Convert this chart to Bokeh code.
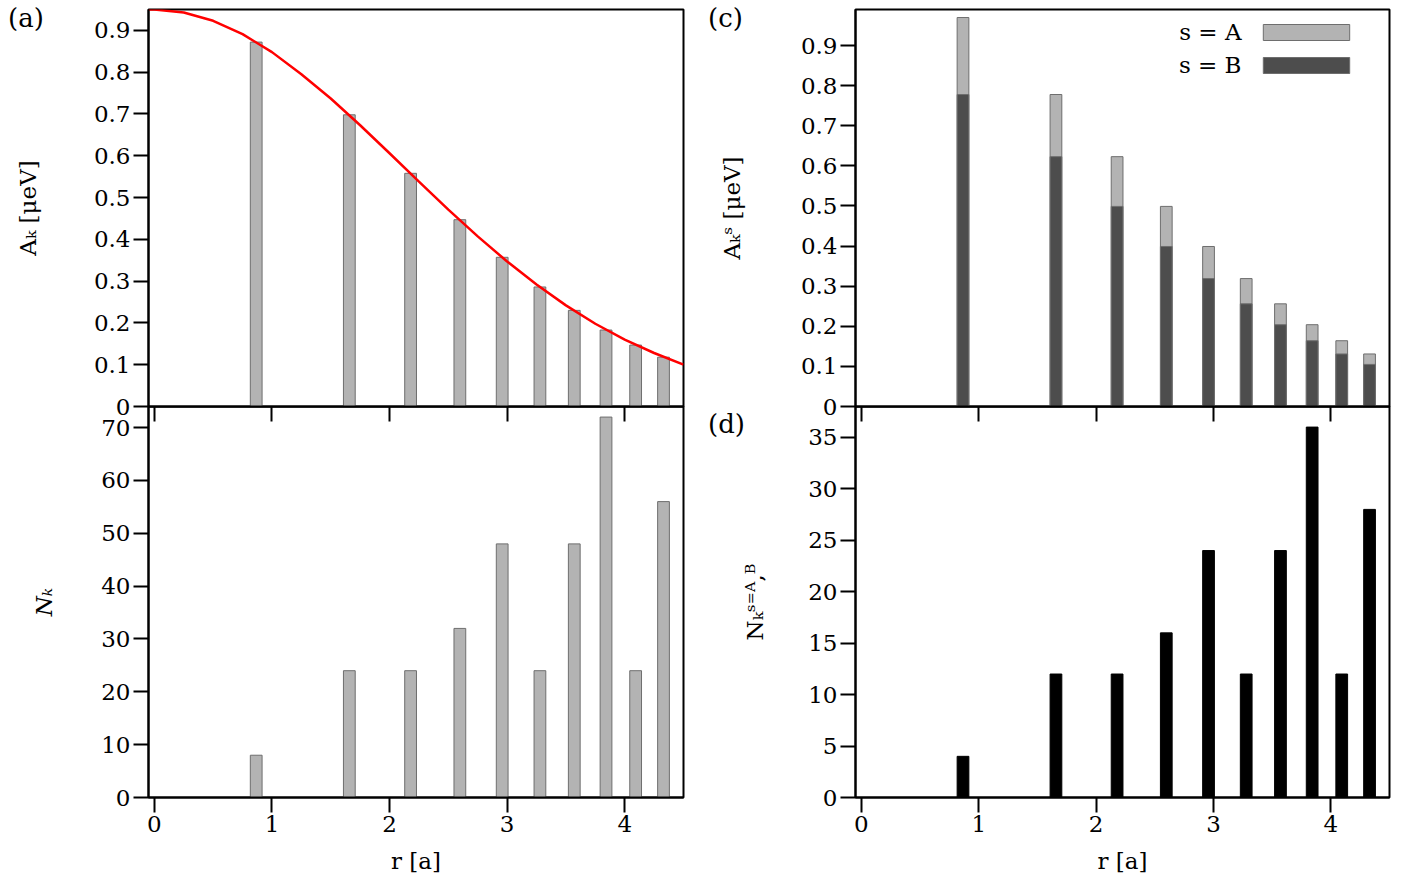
from bokeh.plotting import figure
from bokeh.layouts import row, column
from bokeh.models import Range1d, FixedTicker, Label, Legend, LegendItem, Div
from bokeh.embed import file_html
from bokeh.resources import INLINE

# ---- data ----
r_shell = [0.866, 1.658, 2.179, 2.598, 2.958, 3.279, 3.571, 3.841, 4.093, 4.330]
A_k = [0.872, 0.698, 0.558, 0.447, 0.357, 0.286, 0.230, 0.183, 0.147, 0.118]
curve_r = [-0.05, 0.0, 0.25, 0.5, 0.75, 1.0, 1.25, 1.5, 1.75, 2.0, 2.25, 2.5,
           2.75, 3.0, 3.25, 3.5, 3.75, 4.0, 4.25, 4.5]
curve_A = [0.950, 0.950, 0.943, 0.923, 0.891, 0.848, 0.795, 0.737, 0.673, 0.606,
           0.538, 0.471, 0.407, 0.347, 0.292, 0.242, 0.198, 0.160, 0.128, 0.100]
N_k = [8, 24, 24, 32, 48, 24, 48, 72, 24, 56]
As_A = [0.970, 0.778, 0.623, 0.499, 0.399, 0.319, 0.256, 0.204, 0.164, 0.131]
As_B = [0.778, 0.623, 0.499, 0.399, 0.319, 0.256, 0.204, 0.164, 0.131, 0.105]
Ns_AB = [4, 12, 12, 16, 24, 12, 24, 36, 12, 28]
legend_labels = ["s = A", "s = B"]
panel_tags = ["(a)", "(c)", "(d)"]

x_ticks = [0, 1, 2, 3, 4]
yticks_A = [0, 0.1, 0.2, 0.3, 0.4, 0.5, 0.6, 0.7, 0.8, 0.9]
yticks_N = [0, 10, 20, 30, 40, 50, 60, 70]
yticks_Ns = [0, 5, 10, 15, 20, 25, 30, 35]

FONT = "DejaVu Serif"
FS = "23px"
LIGHT = "#b3b3b3"
DARK = "#4d4d4d"
EDGE = "#6e6e6e"
BAR_W = 0.1
OVERLAP = 40
TOP = 9
TAG_STYLE = {"font-family": FONT, "font-size": "26px", "line-height": "1", "color": "black"}


def make_fig(frame_w, frame_h, y_end, left, right, top, bottom):
    p = figure(frame_width=frame_w, frame_height=frame_h,
               x_range=Range1d(-0.05, 4.5), y_range=Range1d(0, y_end),
               output_backend="svg", toolbar_location=None,
               min_border_left=left, min_border_right=right,
               min_border_top=top, min_border_bottom=bottom)
    p.grid.visible = False
    p.outline_line_color = "black"
    p.outline_line_width = 2
    p.outline_line_alpha = 1
    p.border_fill_alpha = 0
    for ax in p.axis:
        ax.axis_line_width = 2
        ax.axis_line_color = "black"
        ax.major_tick_line_width = 2
        ax.major_tick_line_color = "black"
        ax.major_tick_out = 15
        ax.major_tick_in = 0
        ax.minor_tick_line_color = None
        ax.major_label_text_font = FONT
        ax.major_label_text_font_size = FS
        ax.major_label_text_color = "black"
        ax.major_label_standoff = 3
        ax.axis_label_text_font = FONT
        ax.axis_label_text_font_size = FS
        ax.axis_label_text_font_style = "normal"
        ax.axis_label_text_color = "black"
    p.xaxis.ticker = FixedTicker(ticks=x_ticks)
    return p


def tag(text, top, left):
    return Div(text=text, width=48, height=30, margin=(top, 0, 0, left), styles=TAG_STYLE)


def top_style(p, shift):
    p.xaxis.major_label_overrides = {t: "" for t in x_ticks}
    p.margin = (shift, 0, 0, 0)


def bottom_style(p, shift):
    p.xaxis.axis_label = "r [a]"
    p.xaxis.axis_label_standoff = 13
    p.background_fill_alpha = 0
    p.margin = (shift, 0, 0, 0)


# (a)
div_a = tag(panel_tags[0], 5, 8)
pa = make_fig(535, 397, 0.95, 148, 20, TOP, OVERLAP)
pa.vbar(x=r_shell, top=A_k, width=BAR_W, fill_color=LIGHT, line_color=EDGE, line_width=1)
pa.line(curve_r, curve_A, line_color="red", line_width=2.5)
pa.yaxis.ticker = FixedTicker(ticks=yticks_A)
pa.yaxis.major_label_overrides = {0: "0"}
pa.yaxis.axis_label = "Aₖ [μeV]"
pa.yaxis.axis_label_standoff = 50
top_style(pa, -35)

# (b)
pb = make_fig(535, 391, 74, 148, 20, 0, 84)
pb.vbar(x=r_shell, top=N_k, width=BAR_W, fill_color=LIGHT, line_color=EDGE, line_width=1)
pb.yaxis.ticker = FixedTicker(ticks=yticks_N)
pb.yaxis.axis_label = "Nₖ"
pb.yaxis.axis_label_text_font_style = "italic"
pb.yaxis.axis_label_standoff = 41
bottom_style(pb, -OVERLAP)

# (c)
div_c = tag(panel_tags[1], 5, 5)
pc = make_fig(534, 397, 0.99, 152, 15, TOP, OVERLAP)
rA = pc.vbar(x=r_shell, top=As_A, width=BAR_W, fill_color=LIGHT, line_color=EDGE, line_width=1)
rB = pc.vbar(x=r_shell, top=As_B, width=BAR_W, fill_color=DARK, line_color=EDGE, line_width=1)
pc.yaxis.ticker = FixedTicker(ticks=yticks_A)
pc.yaxis.major_label_overrides = {0: "0"}
pc.yaxis.axis_label = "Aₖˢ [μeV]"
pc.yaxis.axis_label_standoff = 53
top_style(pc, -35)
leg = Legend(items=[LegendItem(label="", renderers=[rA]),
                    LegendItem(label="", renderers=[rB])],
             location=(397, 331), orientation="vertical",
             glyph_width=108, glyph_height=20, label_height=20, label_width=0,
             label_standoff=0, spacing=13, padding=0, margin=0,
             border_line_alpha=0, background_fill_alpha=0)
pc.add_layout(leg)
for txt, yy in zip(legend_labels, [31, 64]):
    pc.add_layout(Label(x=538, y=yy, x_units="canvas", y_units="canvas", text=txt,
                        text_font=FONT, text_font_size=FS, text_align="right",
                        text_baseline="middle", text_color="black"))

# (d)
div_d = tag(panel_tags[2], -35, 5)
pd = make_fig(534, 391, 38, 152, 15, 0, 84)
pd.vbar(x=r_shell, top=Ns_AB, width=BAR_W, fill_color="black", line_color="black", line_width=1)
pd.yaxis.ticker = FixedTicker(ticks=yticks_Ns)
pd.yaxis.axis_label = "Nₖˢ⁼ᴬ,ᴮ"
pd.yaxis.axis_label_standoff = 37
bottom_style(pd, -35)

layout = row(column(div_a, pa, pb), column(div_c, pc, div_d, pd))
open("out.html", "w").write(file_html(layout, INLINE))
